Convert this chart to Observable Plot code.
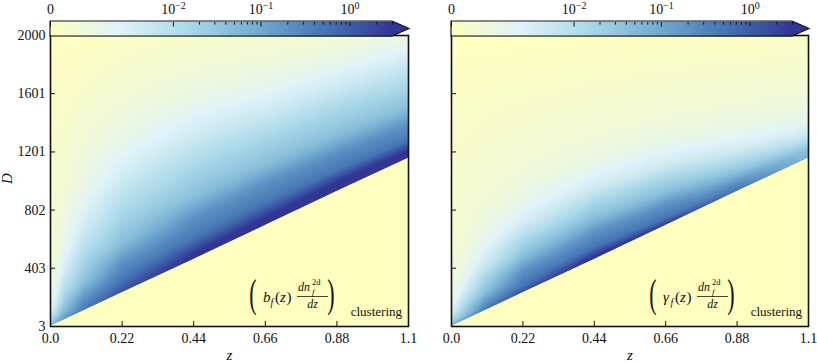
<!DOCTYPE html>
<html><head><meta charset="utf-8">
<script src="https://cdn.jsdelivr.net/npm/d3@7"></script>
<script src="https://cdn.jsdelivr.net/npm/@observablehq/plot@0.6"></script>
<style>
body{margin:0;background:#fff;}
#fig{position:relative;width:817px;height:363px;overflow:hidden;}
#fig > div{position:absolute;top:0;}
svg{overflow:visible;}
</style></head><body><div id="fig"></div>
<script>
// ---------- axis / tick data ----------
const zTicks = [0, 0.22, 0.44, 0.66, 0.88, 1.1];
const zTickLabels = ["0.0", "0.22", "0.44", "0.66", "0.88", "1.1"];
const dTicks = [3, 403, 802, 1201, 1601, 2000];
const cbMajor = [0, 0.01, 0.1, 1];
const cbMajorBase = ["0", "10", "10", "10"];
const cbMajorExp = ["", "\u22122", "\u22121", "0"];
const cbMinor = [0.02,0.03,0.04,0.05,0.06,0.07,0.08,0.09,0.2,0.3,0.4,0.5,0.6,0.7,0.8,0.9,2,3];
const vMax = 3;
const linConstant = 4.35e-4;
const cmapColors = ["#ffffbf", "#e0f3f8", "#abd9e9", "#74add1", "#4575b4", "#313695"];

// ---------- survey edge (lower boundary of the signal) ----------
const edgeZ = [0, 0.22, 0.44, 0.66, 0.88, 1.1];
const edgeD = [3, 234, 463, 696, 929, 1158];

// ---------- sampled columns ----------
const colZ = [0.01, 0.041, 0.102, 0.22, 0.44, 0.666, 0.88, 1.1];
const levels = [3, 0.5, 0.2, 0.04, 0.015, 0.004, 0.0012, 0.0005];
const zeroColD = [3, 100, 300, 700, 1200, 2000];

// left panel: b_f(z) dn/dz
const leftEdgeValue = [0.07, 0.17, 0.45, 1.6, 3.5, 4, 4, 4];
const leftLevelD = [
  [null, null, null, null, 502, 753, 994, 1211],
  [null, null, null, 319, 605, 856, 1074, 1279],
  [null, null, 193, 445, 753, 994, 1199, 1394],
  [33, 124, 307, 582, 902, 1131, 1325, 1508],
  [67, 216, 467, 788, 1108, 1314, 1497, 1657],
  [124, 353, 673, 1016, 1314, 1485, 1657, 1817],
  [216, 536, 925, 1268, 1543, 1680, 1817, 1954],
  [399, 856, 1245, 1543, 1771, 1863, 1954, null]
];
const leftTopValue = [0, 0, 0.00003, 0.0001, 0.0002, 0.0003, 0.0004, 0.0009];
const leftZeroColValue = [0.05, 0.003, 0.0008, 0.0002, 0, 0];

// right panel: gamma_f(z) dn/dz
const rightEdgeValue = [0.07, 0.17, 0.45, 1.6, 3.5, 3.2, 0.55, 0.06];
const rightLevelD = [
  [null, null, null, null, 486, 701, null, null],
  [null, null, null, 284, 547, 753, null, null],
  [null, null, 159, 387, 650, 845, 994, null],
  [33, 79, 239, 490, 753, 936, 1062, 1211],
  [67, 147, 342, 593, 856, 1028, 1131, 1268],
  [113, 239, 445, 696, 959, 1119, 1211, 1325],
  [193, 353, 605, 856, 1108, 1268, 1337, 1428],
  [353, 582, 856, 1085, 1314, 1451, 1540, 1620]
];
const rightTopValue = [0, 0, 0, 0, 0.00002, 0.00004, 0.00006, 0.0001];
const rightZeroColValue = [0.05, 0.004, 0.001, 0.0002, 0, 0];

// ---------- font detection ----------
function hasFont(name) {
  const c = document.createElement("canvas").getContext("2d");
  const s = "abcdefghijklmnopqrstuvwxyz0123456789ABCDEFGHIJ";
  let diff = false;
  for (const base of ["monospace", "sans-serif"]) {
    c.font = `40px ${base}`; const w0 = c.measureText(s).width;
    c.font = `40px "${name}", ${base}`; const w1 = c.measureText(s).width;
    if (Math.abs(w1 - w0) > 0.5) diff = true;
  }
  return diff;
}
const serifChoice = ["Liberation Serif", "Times New Roman", "DejaVu Serif", "Noto Serif"].find(hasFont);
const FONT = serifChoice ? `"${serifChoice}", serif` : "serif";
const FS = serifChoice === "DejaVu Serif" ? 0.85 : 1;

// ---------- helpers ----------
const L = Math.log1p(vMax / linConstant);
const tOf = v => Math.log1p(v / linConstant) / L;
const vOf = t => linConstant * Math.expm1(t * L);
function lerpTable(xs, ys, x) {
  if (x <= xs[0]) return ys[0];
  for (let i = 1; i < xs.length; i++) {
    if (x <= xs[i]) { const f = (x - xs[i-1]) / (xs[i] - xs[i-1]); return ys[i-1] + f * (ys[i] - ys[i-1]); }
  }
  return ys[ys.length - 1];
}
const edgeAt = z => lerpTable(edgeZ, edgeD, z);

// field rendered from the read column profiles (contours follow the edge-normalised height)
function makeField(edgeVals, levelD, topVals, zeroVals) {
  const cols = [];
  cols.push({z: 0, s: zeroColD.map(D => (D - 3) / 1997), t: zeroVals.map(tOf)});
  colZ.forEach((z, i) => {
    const De = edgeAt(z);
    const pts = [[0, tOf(edgeVals[i])]];
    levels.forEach((lv, j) => {
      const D = levelD[j][i];
      if (D != null) pts.push([(D - De) / (2000 - De), tOf(lv)]);
    });
    pts.push([1, tOf(topVals[i])]);
    pts.sort((a, b) => a[0] - b[0]);
    cols.push({z, s: pts.map(p => p[0]), t: pts.map(p => p[1])});
  });
  return (z, D) => {
    const De = edgeAt(z);
    if (D < De) return 0;
    const s = Math.min(1, (D - De) / (2000 - De));
    let k = 0;
    while (k < cols.length - 2 && z > cols[k + 1].z) k++;
    const a = cols[k], b = cols[k + 1];
    const f = Math.max(0, Math.min(1, (z - a.z) / (b.z - a.z)));
    const t = (1 - f) * lerpTable(a.s, a.t, s) + f * lerpTable(b.s, b.t, s);
    return vOf(t);
  };
}
const edgeTable = edgeZ.map((z, i) => ({z, D: edgeD[i]}));
const cmap = d3.piecewise(d3.interpolateRgb, cmapColors);
const colorOpts = {type: "symlog", constant: linConstant, domain: [0, vMax], interpolate: cmap, clamp: true};

function panel(field, opts) {
  return Plot.plot({
    width: opts.width, height: 363,
    marginLeft: opts.ml, marginRight: opts.mr, marginTop: 35, marginBottom: 37,
    x: {domain: [0, 1.1]},
    y: {domain: [3, 2000]},
    color: colorOpts,
    style: {fontFamily: FONT, fontSize: (14 * FS) + "px", color: "#111", background: "transparent", overflow: "visible"},
    marks: [
      Plot.raster({fill: field, x1: 0, x2: 1.1, y1: 3, y2: 2000}),
      Plot.areaY(edgeTable, {x: "z", y1: 3, y2: "D", fill: () => 0}),
      Plot.frame({stroke: "#111", strokeWidth: 1.6}),
      Plot.axisX(zTicks, {tickSize: -5, tickPadding: 12, tickFormat: d => zTickLabels[zTicks.indexOf(d)], label: null, fontFamily: FONT}),
      Plot.axisY(dTicks, {tickSize: -5, tickPadding: 10, tickFormat: opts.yLabels ? (d => String(d)) : (() => ""), label: null, fontFamily: FONT}),
      Plot.text(["z"], {text: d => d, frameAnchor: "bottom", dy: 33, lineAnchor: "bottom", fontStyle: "italic", fontSize: 15 * FS, fontFamily: FONT}),
      ...(opts.yLabels ? [Plot.text(["D"], {text: d => d, frameAnchor: "left", dx: -43, dy: 3, rotate: -90, fontStyle: "italic", fontSize: 15 * FS, fontFamily: FONT})] : [])
    ]
  });
}

function colorbar(opts) {
  const svg = Plot.plot({
    width: opts.width, height: 36,
    marginLeft: opts.ml, marginRight: opts.mr, marginTop: 21, marginBottom: 0,
    x: {type: "symlog", constant: linConstant, domain: [0, vMax]},
    y: {domain: [0, 1], axis: null},
    color: colorOpts,
    style: {fontFamily: FONT, fontSize: (14 * FS) + "px", color: "#111", background: "transparent", overflow: "visible"},
    marks: [
      Plot.raster({fill: (x, y) => x, x1: 0, x2: vMax, y1: 0, y2: 1}),
      (index, scales, values, dims) => {
        const x0 = scales.x(0), x1 = scales.x(vMax);
        const yt = dims.marginTop, yb = dims.height - dims.marginBottom, ym = (yt + yb) / 2;
        const g = d3.create("svg:g");
        g.append("path").attr("d", `M${x1},${yt}L${x1 + 17},${ym}L${x1},${yb}Z`).attr("fill", scales.color(vMax));
        g.append("path").attr("d", `M${x0},${yt}H${x1}L${x1 + 17},${ym}L${x1},${yb}H${x0}Z`)
          .attr("fill", "none").attr("stroke", "#111").attr("stroke-width", 1.2);
        return g.node();
      },
      Plot.axisX(cbMinor, {anchor: "top", tickSize: -2.5, tickFormat: () => "", label: null}),
      Plot.axisX(cbMajor, {anchor: "top", tickSize: -4.5, tickPadding: 12,
        tickFormat: d => { const i = cbMajor.indexOf(d); return cbMajorExp[i] ? cbMajorBase[i] + "|" + cbMajorExp[i] : cbMajorBase[i]; },
        label: null, fontFamily: FONT})
    ]
  });
  // typeset the exponents as raised, smaller text
  d3.select(svg).selectAll("text").each(function() {
    const s = this.textContent;
    if (s.includes("|")) {
      const [b, e] = s.split("|");
      const el = d3.select(this);
      el.text(b);
      el.append("tspan").attr("dy", "-0.5em").attr("font-size", (10 * FS) + "px").text(e);
    }
  });
  return svg;
}

function annotate(svg, R, sym) {
  const g = d3.select(svg).append("g").attr("fill", "#111").style("font-family", FONT);
  const t = (x, y, s, size, italic, anchor) => g.append("text").attr("x", x).attr("y", y)
    .attr("font-size", size * FS).attr("font-style", italic ? "italic" : "normal")
    .attr("text-anchor", anchor || "start").text(s);
  const big = (x, y, s) => g.append("text").attr("transform", `translate(${x},${y}) scale(0.55,1)`)
    .attr("font-size", 40).text(s);
  big(R - 155, 307, "(");
  t(R - 145, 302, sym, 15, true);
  t(R - 137.5, 305.5, "f", 10, true);
  t(R - 133, 302, "(", 15, false);
  t(R - 128, 302, "z", 15, true);
  t(R - 121.5, 302, ")", 15, false);
  t(R - 110, 291, "dn", 12, true);
  t(R - 96, 285, "2d", 8.5, false);
  t(R - 96, 294.5, "f", 8.5, true);
  g.append("line").attr("x1", R - 111).attr("x2", R - 80).attr("y1", 296.5).attr("y2", 296.5)
    .attr("stroke", "#111").attr("stroke-width", 0.8);
  t(R - 95.5, 308, "dz", 12, true, "middle");
  big(R - 77, 307, ")");
  t(R - 6, 316, "clustering", 13, false, "end");
}

const fig = document.getElementById("fig");
function place(node, left, z) {
  const d = document.createElement("div");
  d.style.left = left + "px";
  d.style.zIndex = z;
  d.appendChild(node);
  fig.appendChild(d);
}

const leftPanel = panel(makeField(leftEdgeValue, leftLevelD, leftTopValue, leftZeroColValue), {width: 412, ml: 50, mr: 4, yLabels: true});
annotate(leftPanel, 408, "b");
const rightPanel = panel(makeField(rightEdgeValue, rightLevelD, rightTopValue, rightZeroColValue), {width: 417, ml: 51, mr: 9, yLabels: false});
annotate(rightPanel, 408, "\u03B3");
place(leftPanel, 0, 1);
place(rightPanel, 400, 1);
place(colorbar({width: 412, ml: 50, mr: 20}), 0, 2);
place(colorbar({width: 417, ml: 51, mr: 25}), 400, 2);
</script></body></html>
